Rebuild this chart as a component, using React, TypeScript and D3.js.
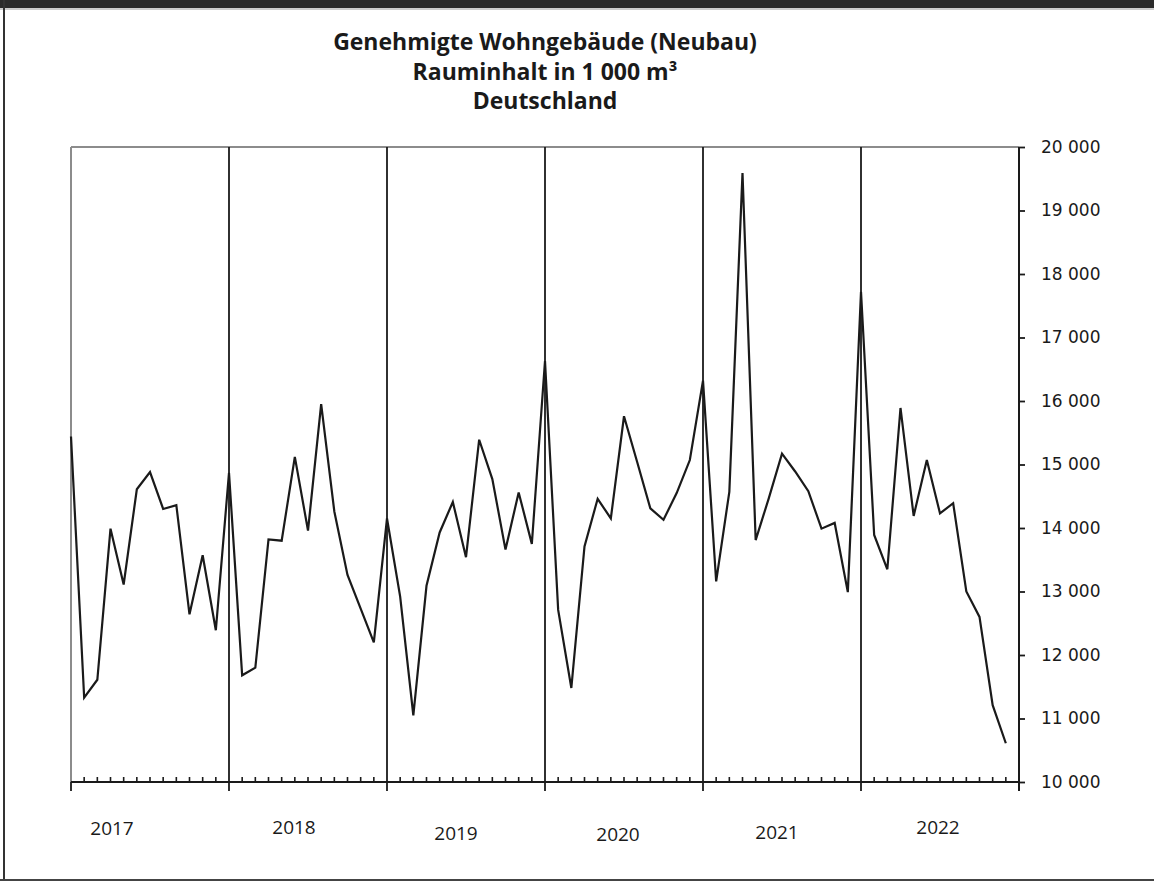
import React, { useEffect, useRef } from 'react';
import * as d3 from 'd3';

const years = ['2017', '2018', '2019', '2020', '2021', '2022'];

// monthly values, 1 000 m³
const values2017 = [15440, 11330, 11610, 13990, 13110, 14610, 14880, 14300, 14360, 12640, 13570, 12390];
const values2018 = [14870, 11680, 11800, 13820, 13800, 15120, 13960, 15950, 14260, 13260, 12730, 12200];
const values2019 = [14150, 12920, 11050, 13090, 13930, 14410, 13540, 15390, 14770, 13660, 14560, 13750];
const values2020 = [16630, 12710, 11480, 13710, 14460, 14150, 15760, 15040, 14310, 14130, 14550, 15070];
const values2021 = [16320, 13160, 14570, 19590, 13810, 14470, 15170, 14890, 14580, 13990, 14080, 12990];
const values2022 = [17720, 13890, 13350, 15890, 14190, 15070, 14230, 14390, 13000, 12600, 11210, 10610];

const yTicks = [10000, 11000, 12000, 13000, 14000, 15000, 16000, 17000, 18000, 19000, 20000];

const titleLines = ['Genehmigte Wohngebäude (Neubau)', 'Rauminhalt in 1 000 m³', 'Deutschland'];

const App: React.FC = () => {
  const svgRef = useRef<SVGSVGElement>(null);

  useEffect(() => {
    if (!svgRef.current) return;
    const width = 1154;
    const left = 71, right = 1019, top = 147, bottom = 782;

    const svg = d3.select(svgRef.current);
    svg.selectAll('*').remove();

    const series = [values2017, values2018, values2019, values2020, values2021, values2022].flat();
    const nMonths = years.length * 12;

    const x = d3.scaleLinear().domain([0, nMonths]).range([left, right]);
    const y = d3.scaleLinear().domain([10000, 20000]).range([bottom, top]);

    const fmt = d3.formatLocale({ decimal: ',', thousands: ' ', grouping: [3], currency: ['', ''] }).format(',d');

    // outer frame
    svg.append('rect').attr('x', 0).attr('y', 0).attr('width', width).attr('height', 8).attr('fill', '#2b2b2b');
    svg.append('line').attr('x1', 0).attr('x2', width).attr('y1', 9).attr('y2', 9).attr('stroke', '#9a9a9a').attr('stroke-width', 1);
    svg.append('line').attr('x1', 4).attr('x2', 4).attr('y1', 0).attr('y2', 881).attr('stroke', '#333').attr('stroke-width', 2);
    svg.append('line').attr('x1', 0).attr('x2', width).attr('y1', 880).attr('y2', 880).attr('stroke', '#444').attr('stroke-width', 2);

    // title
    svg.append('g')
      .selectAll('text')
      .data(titleLines)
      .enter()
      .append('text')
      .attr('x', (left + right) / 2)
      .attr('y', (_, i) => 50 + i * 29.5)
      .attr('text-anchor', 'middle')
      .attr('font-family', 'Open Sans, sans-serif')
      .attr('font-weight', 700)
      .attr('font-size', '23px')
      .attr('fill', '#1a1a1a')
      .text(d => d);

    // plot frame: top and left in grey
    svg.append('line').attr('x1', left).attr('x2', right).attr('y1', top).attr('y2', top).attr('stroke', '#8c8c8c').attr('stroke-width', 2);
    svg.append('line').attr('x1', left).attr('x2', left).attr('y1', top).attr('y2', bottom).attr('stroke', '#8c8c8c').attr('stroke-width', 2);

    // year separators (also the major ticks below the axis)
    const yearIdx = d3.range(1, years.length);
    svg.append('g')
      .selectAll('line')
      .data(yearIdx)
      .enter()
      .append('line')
      .attr('x1', d => x(d * 12)).attr('x2', d => x(d * 12))
      .attr('y1', top).attr('y2', bottom + 9)
      .attr('stroke', '#1a1a1a').attr('stroke-width', 1.8);
    svg.append('line').attr('x1', left).attr('x2', left).attr('y1', bottom).attr('y2', bottom + 9).attr('stroke', '#1a1a1a').attr('stroke-width', 1.8);

    // month minor ticks
    const monthIdx = d3.range(1, nMonths).filter(i => i % 12 !== 0);
    svg.append('g')
      .selectAll('line')
      .data(monthIdx)
      .enter()
      .append('line')
      .attr('x1', d => x(d)).attr('x2', d => x(d))
      .attr('y1', bottom - 5).attr('y2', bottom)
      .attr('stroke', '#1a1a1a').attr('stroke-width', 1.6);

    // x axis line
    svg.append('line').attr('x1', left).attr('x2', right + 1).attr('y1', bottom).attr('y2', bottom).attr('stroke', '#1a1a1a').attr('stroke-width', 2.2);

    // right y axis
    const yAxis = d3.axisRight(y).tickValues(yTicks).tickSize(6).tickPadding(16).tickFormat(d => fmt(d as number));
    const ya = svg.append('g').attr('transform', `translate(${right},0)`).call(yAxis);
    ya.select('.domain').attr('stroke', '#1a1a1a').attr('stroke-width', 2).attr('d', `M0,${top}V${bottom + 9}`);
    ya.selectAll('.tick line').attr('stroke', '#1a1a1a').attr('stroke-width', 1.8);
    ya.selectAll('.tick text')
      .attr('font-family', 'DejaVu Sans, sans-serif')
      .attr('font-size', '17px')
      .attr('fill', '#1a1a1a');

    // year labels (staggered as in the source)
    const labelDx = [-38, -14, -10, -6, -5, -2];
    const labelY = [835, 834, 840, 841, 839, 834];
    svg.append('g')
      .selectAll('text')
      .data(years)
      .enter()
      .append('text')
      .attr('x', (_, i) => x(i * 12 + 6) + labelDx[i])
      .attr('y', (_, i) => labelY[i])
      .attr('text-anchor', 'middle')
      .attr('font-family', 'Open Sans, sans-serif')
      .attr('font-size', '19px')
      .attr('fill', '#1a1a1a')
      .text(d => d);

    // the series
    const line = d3.line<number>()
      .x((_, i) => x(i))
      .y(d => y(d));

    svg.append('path')
      .datum(series)
      .attr('fill', 'none')
      .attr('stroke', '#1a1a1a')
      .attr('stroke-width', 2.2)
      .attr('stroke-linejoin', 'miter')
      .attr('d', line);
  }, []);

  return (
    <svg
      ref={svgRef}
      width={1154}
      height={884}
      style={{ position: 'absolute', left: 0, top: 0, background: '#fff' }}
    />
  );
};

export default App;
